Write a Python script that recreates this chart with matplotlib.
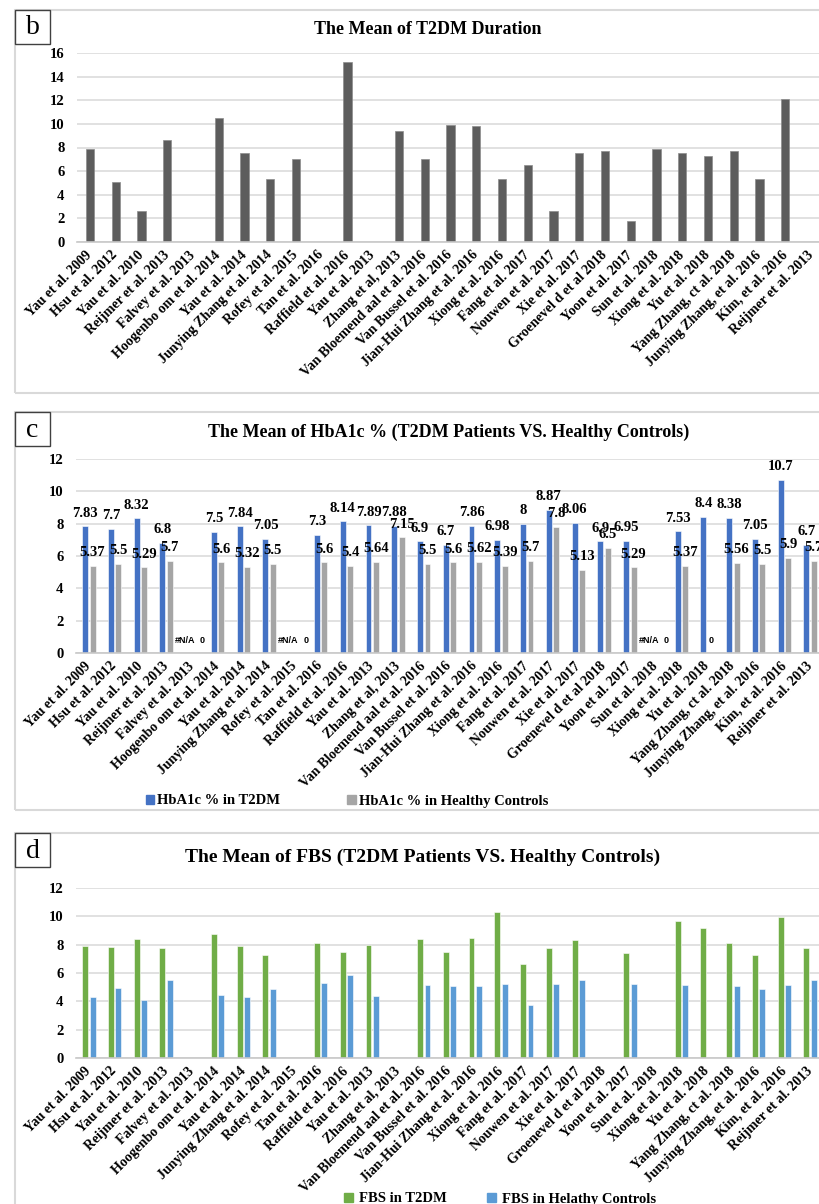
import numpy as np
import matplotlib.pyplot as plt
from matplotlib.patches import Rectangle, Patch

plt.rcParams['font.family'] = ['Liberation Serif', 'DejaVu Serif']

studies = [
    "Yau et al. 2009", "Hsu et al. 2012", "Yau et al. 2010", "Reijmer et al. 2013",
    "Falvey et al. 2013", "Hoogenbo om et al. 2014", "Yau et al. 2014",
    "Junying Zhang et al. 2014", "Rofey et al. 2015", "Tan et al. 2016",
    "Raffield et al. 2016", "Yau et al. 2013", "Zhang et al, 2013",
    "Van Bloemend aal et al. 2016", "Van Bussel et al. 2016",
    "Jian-Hui Zhang et al. 2016", "Xiong et al. 2016", "Fang et al. 2017",
    "Nouwen et al. 2017", "Xie et al. 2017", "Groenevel d et al 2018",
    "Yoon et al. 2017", "Sun et al. 2018", "Xiong et al. 2018", "Yu et al. 2018",
    "Yang Zhang, ct al. 2018", "Junying Zhang, et al. 2016", "Kim, et al. 2016",
    "Reijmer et al. 2013",
]

nan = np.nan

# mean diabetes duration (years)
duration = [7.9, 5.1, 2.6, 8.6, nan, 10.5, 7.5, 5.3, 7.0, nan, 15.2, nan, 9.4, 7.0,
            9.9, 9.8, 5.3, 6.5, 2.6, 7.5, 7.7, 1.8, 7.9, 7.5, 7.3, 7.7, 5.3, 12.1, nan]

# HbA1c %, nan = #N/A
hba1c_t2dm = [7.83, 7.7, 8.32, 6.8, nan, 7.5, 7.84, 7.05, nan, 7.3, 8.14, 7.89, 7.88,
              6.9, 6.7, 7.86, 6.98, 8, 8.87, 8.06, 6.9, 6.95, nan, 7.53, 8.4, 8.38,
              7.05, 10.7, 6.7]
hba1c_ctrl = [5.37, 5.5, 5.29, 5.7, 0, 5.6, 5.32, 5.5, 0, 5.6, 5.4, 5.64, 7.15, 5.5,
              5.6, 5.62, 5.39, 5.7, 7.8, 5.13, 6.5, 5.29, 0, 5.37, 0, 5.56, 5.5, 5.9,
              5.7]

# fasting blood sugar
fbs_t2dm = [7.9, 7.85, 8.37, 7.8, nan, 8.77, 7.9, 7.24, nan, 8.09, 7.48, 7.99, nan,
            8.41, 7.48, 8.48, 10.31, 6.66, 7.8, 8.32, nan, 7.38, nan, 9.66, 9.21, 8.09,
            7.24, 9.98, 7.8]
fbs_ctrl = [4.34, 4.97, 4.1, 5.48, nan, 4.45, 4.29, 4.85, nan, 5.32, 5.86, 4.38, nan,
            5.16, 5.11, 5.11, 5.23, 3.77, 5.25, 5.53, nan, 5.23, nan, 5.16, nan, 5.11,
            4.85, 5.16, 5.48]

W, H = 820, 1204
fig = plt.figure(figsize=(W / 100, H / 100), dpi=100)
x = np.arange(len(studies))


def px_axes(left, top, bottom, width=747):
    return fig.add_axes([left / W, 1 - bottom / H, width / W, (bottom - top) / H])


def panel_frame(letter, top, bottom):
    fig.patches.append(Rectangle((15 / W, 1 - bottom / H), 900 / W, (bottom - top) / H,
                                 transform=fig.transFigure, fill=False,
                                 edgecolor='#d9d9d9', lw=1.5, zorder=0))
    fig.patches.append(Rectangle((15 / W, 1 - (top + 34) / H), 35 / W, 34 / H,
                                 transform=fig.transFigure, facecolor='white',
                                 edgecolor='#404040', lw=1.0, zorder=1))
    fig.text(32.5 / W, 1 - (top + 18) / H, letter, ha='center', va='center',
             fontsize=20, zorder=2)


def style(ax, ymax):
    ax.set_xlim(-0.5, len(studies) - 0.5)
    ax.set_ylim(0, ymax)
    ax.set_yticks(np.arange(0, ymax + 1, 2))
    ax.yaxis.grid(True, color='#d9d9d9', lw=1.1)
    ax.set_axisbelow(True)
    for s in ['top', 'right', 'left']:
        ax.spines[s].set_visible(False)
    ax.spines['bottom'].set_color('#c8c8c8')
    ax.spines['bottom'].set_linewidth(1.2)
    ax.tick_params(length=0)
    ax.tick_params(axis='y', pad=9, labelsize=10.5)
    for t in ax.get_yticklabels():
        t.set_fontweight('bold')
    ax.set_xticks(x)
    ax.set_xticklabels(studies, rotation=45, rotation_mode='anchor', ha='right',
                       va='center', fontsize=10, fontweight='bold')
    ax.tick_params(axis='x', pad=8)
    ax.patch.set_alpha(0)


# panel b
panel_frame('b', 10, 393)
ax_b = px_axes(77, 53, 242)
ax_b.bar(x, duration, width=0.32, color='#5d5d5d', edgecolor='#8c8c8c', lw=0.5)
style(ax_b, 16)
fig.text(428 / W, 1 - 30 / H, 'The Mean of T2DM Duration', ha='center', va='center',
         fontsize=13, fontweight='bold')

# panel c
panel_frame('c', 412, 810)
ax_c = px_axes(76, 459, 653)
off, bw = 0.145, 0.23
blue_c, grey_c = '#4472c4', '#a5a5a5'
ax_c.bar(x - off, hba1c_t2dm, width=bw, color=blue_c, edgecolor='white', lw=0.4)
ax_c.bar(x + off, hba1c_ctrl, width=bw, color=grey_c, edgecolor='white', lw=0.4)
style(ax_c, 12)
for i in x:
    t, c = hba1c_t2dm[i], hba1c_ctrl[i]
    if np.isnan(t):
        ax_c.annotate('#N/A', (i - off, 0), xytext=(-2, 7), textcoords='offset points',
                      ha='center', va='baseline', fontsize=6.5, fontweight='bold',
                      family=['Liberation Sans'])
    else:
        ax_c.annotate(f'{t:g}', (i - off, t), xytext=(0, 7), textcoords='offset points',
                      ha='center', va='baseline', fontsize=10.5, fontweight='bold')
    if c == 0:
        dx = 5 if np.isnan(t) else 0
        ax_c.annotate('0', (i + off, 0), xytext=(dx, 7), textcoords='offset points',
                      ha='center', va='baseline', fontsize=6.5, fontweight='bold',
                      family=['Liberation Sans'])
    else:
        ax_c.annotate(f'{c:g}', (i + off, c), xytext=(0, 7), textcoords='offset points',
                      ha='center', va='baseline', fontsize=10.5, fontweight='bold')
fig.text(449 / W, 1 - 432 / H,
         'The Mean of HbA1c % (T2DM Patients VS. Healthy Controls)',
         ha='center', va='center', fontsize=13, fontweight='bold')
fig.legend(handles=[Patch(color=blue_c, label='HbA1c % in T2DM'),
                    Patch(color=grey_c, label='HbA1c % in Healthy Controls')],
           loc='center', bbox_to_anchor=(347 / W, 1 - 801 / H), ncol=2, frameon=False,
           handlelength=0.6, handleheight=0.6, handletextpad=0.2, columnspacing=4.6,
           prop={'weight': 'bold', 'size': 10.5})

# panel d
panel_frame('d', 833, 1230)
ax_d = px_axes(76, 888, 1058)
green_d, blue_d = '#70ad47', '#5b9bd5'
ax_d.bar(x - off, fbs_t2dm, width=bw, color=green_d, edgecolor='white', lw=0.4)
ax_d.bar(x + off, fbs_ctrl, width=bw, color=blue_d, edgecolor='white', lw=0.4)
style(ax_d, 12)
fig.text(423 / W, 1 - 857 / H,
         'The Mean of FBS (T2DM Patients VS. Healthy Controls)',
         ha='center', va='center', fontsize=14, fontweight='bold')
fig.legend(handles=[Patch(color=green_d, label='FBS in T2DM'),
                    Patch(color=blue_d, label='FBS in Helathy Controls')],
           loc='center', bbox_to_anchor=(500 / W, 1 - 1199 / H), ncol=2, frameon=False,
           handlelength=0.6, handleheight=0.6, handletextpad=0.4, columnspacing=2.8,
           prop={'weight': 'bold', 'size': 10.5})

fig.savefig('out.png', dpi=100, facecolor='white')
